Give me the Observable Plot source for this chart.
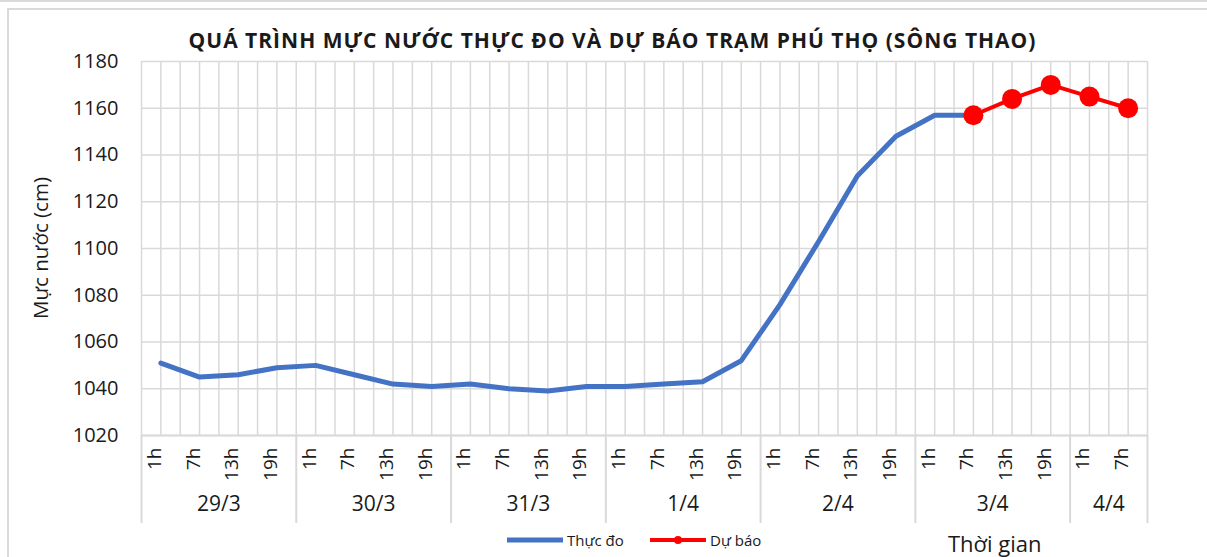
<!DOCTYPE html>
<html>
<head>
<meta charset="utf-8">
<script src="https://cdn.jsdelivr.net/npm/d3@7"></script>
<script src="https://cdn.jsdelivr.net/npm/@observablehq/plot@0.6"></script>
<style>
  html, body { margin: 0; padding: 0; background: #fff; }
  body { width: 1207px; height: 557px; overflow: hidden; position: relative; font-family: "Open Sans", sans-serif; color: #1a1a1a; }
  #topline { position: absolute; left: 0; top: 0; width: 1207px; height: 2px; background: #d9d9d9; }
  #frame { position: absolute; left: 7px; top: 8px; width: 1220px; height: 580px; border: 2px solid #d9d9d9; box-sizing: border-box; }
  #chart { position: absolute; left: 0; top: 0; }
  #title { position: absolute; left: 9px; width: 1207px; top: 26px; text-align: center; font-weight: 700; font-size: 21px; letter-spacing: 1px; }
  #ytitle { position: absolute; left: 40px; top: 248px; transform: translate(-50%, -50%) rotate(-90deg); font-size: 20.5px; white-space: nowrap; }
  #xtitle { position: absolute; left: 948px; top: 528px; font-size: 22px; white-space: nowrap; }
  .leg { position: absolute; top: 530px; font-size: 15px; white-space: nowrap; display: flex; align-items: center; }
  .leg svg { margin-right: 4px; }
</style>
</head>
<body>
<div id="topline"></div>
<div id="frame"></div>
<div id="chart"></div>
<div id="title">QUÁ TRÌNH MỰC NƯỚC THỰC ĐO VÀ DỰ BÁO TRẠM PHÚ THỌ (SÔNG THAO)</div>
<div id="ytitle">Mực nước (cm)</div>
<div id="xtitle">Thời gian</div>
<div class="leg" style="left:507px"><svg width="56" height="20"><line x1="0" y1="10" x2="56" y2="10" stroke="#4472c4" stroke-width="5"/></svg>Thực đo</div>
<div class="leg" style="left:650px"><svg width="56" height="20"><line x1="0" y1="10" x2="56" y2="10" stroke="#ff0000" stroke-width="4"/><circle cx="28" cy="10" r="4" fill="#ff0000"/></svg>Dự báo</div>
<script>
// ---- data ----
const dayLabels = ["29/3","29/3","29/3","29/3","30/3","30/3","30/3","30/3","31/3","31/3","31/3","31/3",
                   "1/4","1/4","1/4","1/4","2/4","2/4","2/4","2/4","3/4","3/4","3/4","3/4","4/4","4/4"];
const hourLabels = ["1h","7h","13h","19h","1h","7h","13h","19h","1h","7h","13h","19h",
                    "1h","7h","13h","19h","1h","7h","13h","19h","1h","7h","13h","19h","1h","7h"];
const observed = [1051,1045,1046,1049,1050,1046,1042,1041,1042,1040,1039,1041,
                  1041,1042,1043,1052,1076,1103,1131,1148,1157,1157,null,null,null,null];
const forecast = [null,null,null,null,null,null,null,null,null,null,null,null,
                  null,null,null,null,null,null,null,null,null,1157,1164,1170,1165,1160];
const yTicks = [1020,1040,1060,1080,1100,1120,1140,1160,1180];

// ---- derived tables ----
const rows = hourLabels.map((h, i) => ({i, hour: h, day: dayLabels[i], obs: observed[i], fc: forecast[i]}));
const groups = [];
rows.forEach(r => {
  const g = groups.find(g => g.day === r.day);
  if (g) g.last = r.i; else groups.push({day: r.day, first: r.i, last: r.i});
});
groups.forEach(g => g.center = (g.first + g.last) / 2);
const boundaries = [-0.5, ...groups.map(g => g.last + 0.5)];
const halfSteps = d3.range(-0.5, rows.length, 0.5);

const chart = Plot.plot({
  width: 1207,
  height: 557,
  marginLeft: 141,
  marginRight: 60,
  marginTop: 61,
  marginBottom: 122,
  x: {domain: [-0.5, rows.length - 0.5], axis: null},
  y: {domain: [1020, 1180]},
  style: {fontFamily: "Open Sans, sans-serif", background: "transparent", color: "#1a1a1a", overflow: "visible"},
  marks: [
    Plot.gridY(yTicks, {stroke: "#d9d9d9", strokeOpacity: 1, strokeWidth: 1.5}),
    Plot.ruleX(halfSteps, {stroke: "#d9d9d9", strokeOpacity: 1, strokeWidth: 1.5}),
    Plot.ruleX(boundaries, {stroke: "#d9d9d9", strokeWidth: 2, insetTop: 374, insetBottom: -88}),
    Plot.ruleY([1020], {stroke: "#d9d9d9", strokeWidth: 2}),
    Plot.axisY(yTicks, {tickSize: 0, tickPadding: 23, fontSize: 20, label: null, tickFormat: d3.format("d")}),
    Plot.text(rows, {x: "i", text: "hour", frameAnchor: "bottom", rotate: -90, textAnchor: "end", dy: 12, fontSize: 19}),
    Plot.text(groups, {x: "center", text: "day", frameAnchor: "bottom", dy: 75, fontSize: 21}),
    Plot.line(rows, {x: "i", y: "obs", stroke: "#4472c4", strokeWidth: 5}),
    Plot.line(rows, {x: "i", y: "fc", stroke: "#ff0000", strokeWidth: 4}),
    Plot.dot(rows, {x: "i", y: "fc", r: 10, fill: "#ff0000"})
  ]
});
document.getElementById("chart").appendChild(chart);
</script>
</body>
</html>
